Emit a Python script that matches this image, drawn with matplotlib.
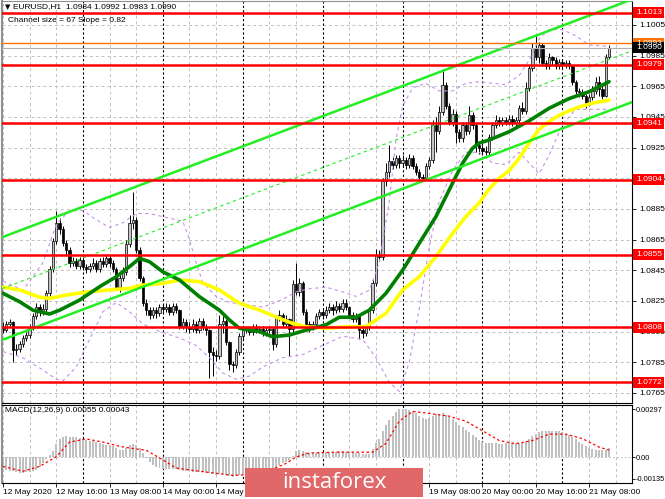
import numpy as np
import matplotlib
matplotlib.use("Agg")
import matplotlib.pyplot as plt
from matplotlib.patches import Rectangle

plt.rcParams['font.family'] = ['Liberation Sans', 'DejaVu Sans']

W, H = 665, 499
BASE = 1.0700   # candle, MA and band values are given in pips above this level
PIP = 0.0001

# EURUSD H1 candles, bar 0 = 12 May 00:00, last bar = 21 May 14:00 (pips above BASE)
first_open = 108
close_p = [106, 110, 111, 93, 94, 97, 101, 103, 108, 115, 121, 118, 120, 130, 146, 164, 176, 172, 163, 158, 150, 151, 148, 152,
           147, 146, 148, 150, 146, 151, 149, 153, 150, 146, 134, 140, 144, 162, 176, 178, 158, 140, 124, 119, 116, 119, 117, 121,
           120, 121, 118, 122, 119, 109, 111, 108, 107, 110, 106, 112, 108, 106, 92, 90, 89, 110, 112, 98, 84, 83, 92, 102,
           106, 107, 105, 108, 106, 107, 104, 106, 107, 97, 114, 116, 110, 113, 107, 136, 131, 137, 118, 110, 108, 110, 115, 118,
           116, 119, 121, 119, 122, 120, 124, 121, 116, 113, 115, 106, 104, 108, 119, 137, 155, 154, 203, 209, 216, 214, 218, 215,
           217, 214, 218, 213, 209, 206, 205, 213, 217, 240, 236, 248, 266, 252, 242, 247, 235, 231, 240, 236, 246, 240, 227, 225,
           223, 222, 232, 240, 243, 241, 243, 242, 244, 241, 243, 251, 249, 264, 277, 290, 284, 292, 280, 278, 284, 282, 278, 281,
           279, 280, 278, 268, 262, 261, 259, 253, 258, 262, 268, 263, 259, 284, 290]
high_p = [111, 112, 113, 112, 97, 99, 103, 105, 110, 117, 124, 123, 123, 132, 148, 166, 184, 179, 174, 165, 160, 154, 153, 154,
          154, 149, 150, 153, 152, 153, 154, 155, 155, 152, 147, 142, 147, 165, 181, 196, 180, 160, 141, 126, 121, 121, 121, 123,
          123, 124, 123, 124, 124, 120, 114, 113, 111, 113, 112, 114, 114, 110, 107, 95, 93, 116, 115, 113, 99, 86, 94, 104,
          108, 109, 109, 110, 110, 109, 109, 108, 109, 108, 116, 119, 117, 116, 114, 139, 150, 140, 138, 120, 112, 112, 117, 120,
          120, 122, 124, 123, 125, 124, 126, 126, 122, 118, 117, 116, 108, 110, 121, 139, 159, 158, 205, 215, 227, 219, 220, 220,
          220, 219, 221, 220, 215, 211, 208, 215, 219, 243, 245, 252, 276, 268, 254, 250, 249, 237, 242, 242, 252, 248, 241, 229,
          227, 226, 234, 242, 246, 245, 245, 245, 246, 246, 245, 253, 255, 268, 279, 293, 298, 294, 293, 282, 287, 285, 284, 283,
          283, 282, 282, 279, 269, 264, 263, 260, 260, 265, 271, 272, 266, 286, 292]
low_p = [104, 105, 108, 85, 90, 92, 95, 99, 101, 106, 113, 115, 116, 118, 128, 144, 162, 169, 161, 155, 147, 148, 146, 146,
         145, 143, 144, 146, 144, 144, 147, 147, 147, 144, 132, 131, 138, 142, 160, 172, 156, 138, 122, 116, 113, 114, 114, 115,
         117, 118, 116, 116, 117, 107, 107, 105, 104, 105, 104, 104, 106, 103, 75, 76, 86, 87, 104, 96, 80, 79, 81, 90,
         100, 104, 103, 103, 104, 104, 102, 102, 104, 93, 95, 112, 108, 108, 89, 105, 129, 128, 116, 106, 105, 106, 108, 113,
         113, 114, 117, 116, 117, 118, 118, 119, 114, 111, 111, 100, 101, 102, 106, 117, 135, 151, 152, 200, 206, 211, 212, 212,
         213, 211, 212, 211, 207, 204, 203, 204, 211, 215, 222, 234, 246, 250, 240, 239, 228, 229, 229, 233, 234, 237, 222, 221,
         220, 220, 220, 230, 238, 239, 239, 240, 240, 239, 239, 239, 247, 247, 262, 275, 282, 280, 278, 276, 276, 279, 276, 276,
         277, 277, 276, 266, 260, 258, 257, 251, 252, 256, 260, 259, 257, 258, 283]

# moving averages (bar index, pips)
green_idx = [0, 5, 9, 14, 17, 23, 29, 34, 38, 41, 44, 48, 53, 59, 65, 68, 71, 77, 81, 86,
             91, 97, 101, 106, 110, 115, 120, 125, 130, 135, 138, 141, 143, 146, 152, 158, 164, 170, 176, 182]
green_val = [130, 124.5, 119, 116.5, 119, 125.6, 134.3, 140.8, 147.4, 152.8, 150.6, 144, 138.7, 127.8, 119, 112.6, 107.2, 105, 101.7, 102.8,
             106, 109.5, 114.4, 114.4, 119, 130, 145, 162.6, 180, 201.8, 214.8, 224.6, 228, 230, 235.4, 242.5, 250.7, 257, 261.5, 268]
yellow_idx = [0, 5, 11, 14, 19, 26, 32, 38, 42, 48, 53, 59, 65, 71, 77, 83, 87, 91, 97, 103,
              109, 115, 120, 125, 130, 135, 139, 143, 146, 149, 152, 155, 158, 161, 164, 167, 170, 173, 177, 182]
yellow_val = [134, 132.2, 127.4, 126.7, 128.9, 131.1, 132.2, 133.3, 135.4, 136.5, 138.7, 137.6, 132.2, 123.5, 119.1, 113.7, 110.4, 108.2, 107.2, 108.2,
              108.2, 117, 132.2, 140.8, 153.9, 169, 180, 189, 198, 205, 210, 218, 228, 237, 242, 246, 249, 251.5, 254, 256]

# bollinger envelope (bar index, pips)
bb_up_idx = [0, 6, 12, 16, 20, 24, 28, 32, 36, 40, 44, 48, 54, 56, 58, 60, 64, 68, 72, 78, 84, 88, 92, 97,
             102, 106, 110, 113, 116, 118, 120, 123, 127, 131, 135, 139, 143, 147, 151, 155, 158, 161, 164, 168, 172, 176, 182]
bb_up_val = [138, 132, 150, 175, 184, 184, 178, 173, 176, 182, 182, 180, 177, 165, 150, 137, 128, 124, 123, 121, 126, 131, 133, 134,
             131, 128, 132, 150, 190, 230, 252, 264, 267, 262, 262, 267, 268, 267, 266, 272, 282, 296, 302, 302, 298, 292, 291]
bb_lo_idx = [0, 6, 12, 16, 18, 22, 26, 30, 34, 38, 42, 46, 50, 54, 58, 62, 66, 70, 74, 78, 84, 90, 96,
             102, 108, 112, 116, 119, 122, 125, 128, 131, 135, 139, 143, 147, 151, 155, 158, 161, 164, 168, 172, 176, 182]
bb_lo_val = [92, 88, 80, 74, 73, 82, 100, 118, 124, 118, 110, 106, 103, 100, 96, 88, 78, 74, 76, 82, 88, 90, 96,
             102, 100, 88, 72, 66, 85, 120, 160, 190, 210, 222, 222, 215, 214, 222, 215, 208, 220, 240, 250, 250, 250]

# MACD(12,26,9) histogram and signal, in units of 0.0001
macd_hist = [-7, -8, -8.5, -9, -9.5, -9.7, -9.8, -9.6, -9.3, -9,
             -7.9, -6, -3.5, -1.5, 1.5, 4, 8, 11, 12.8, 13,
             12.8, 12.5, 12.2, 11.8, 11.3, 10.8, 10.3, 9.8, 9.4, 8.9,
             8.4, 7.8, 7.2, 6.6, 5.5, 4.5, 4.2, 5.5, 7.5, 8.2,
             7.5, 5.5, 2.5, -0.5, -3, -5, -6.2, -7, -7.5, -7.6,
             -7.6, -7.4, -7.8, -8.3, -8.5, -8.8, -9, -9.2, -9.3, -9.4,
             -9.5, -9.8, -10.2, -10.6, -11, -10.8, -10.8, -11.5, -12, -12.2,
             -12, -11.5, -11, -10.5, -10, -9.5, -9, -8.6, -8.2, -7.8,
             -7.6, -7.4, -6, -5, -4, -3, -2, 0.5, 3.5, 4.2,
             4.0, 3.4, 2.8, 2.6, 2.8, 3, 3, 3.2, 3.2, 3.4,
             3.4, 3.6, 3.6, 3.4, 3.2, 3, 2.6, 2.2, 1.8, 1.6,
             2, 5, 8.5, 11, 16, 20, 23, 25.5, 28, 29.7,
             29.7, 29.7, 29.5, 28.8, 27.5, 25.5, 24.2, 23.6, 24.5, 25.8,
             26.8, 27, 27.3, 26.5, 25, 23.5, 22, 20, 18.5, 17,
             15.5, 14, 12.5, 10.5, 9.5, 9, 8.8, 8.6, 8.5, 8.4,
             8.4, 8.5, 8.6, 8.5, 8.5, 8.6, 8.8, 10, 11.5, 13,
             14.5, 15.4, 16, 16.4, 16.4, 16.5, 16.4, 16, 15.5, 14.5,
             13.5, 12.5, 11, 9.5, 8, 6.8, 5.5, 4.8, 4.5, 4.4,
             4.4, 4.6, 5.5]
signal_idx = [0, 6, 11, 16, 20, 25, 30, 35, 39, 43, 48, 52, 59, 69, 74, 80, 85, 88, 92, 100, 108, 111,
              115, 119, 123, 127, 134, 139, 144, 149, 154, 159, 164, 169, 174, 179, 182]
signal_val = [-5.9, -8.9, -5.9, 0.2, 9.3, 11.3, 9.3, 6.7, 5.3, 4.2, -1.8, -6.9, -8.9, -11.5, -11, -8.5, -4, 0, 2.5, 3, 3, 3,
              8.5, 22.4, 28.5, 27.5, 25.5, 22.4, 16.4, 10.3, 8.3, 10.3, 14.3, 14.3, 11.5, 6.2, 4.3]

# horizontal levels and channel
levels = [1.1013, 1.0979, 1.0941, 1.0904, 1.0855, 1.0808, 1.0772]
bid, ask = 1.0990, 1.0993
channel_start = 1.08668   # upper line at bar 0
channel_slope = 0.000082  # per bar ("Slope = 0.82")
channel_size = 0.0067     # "Channel size = 67"

price_ticks = [1.0765, 1.0785, 1.0805, 1.0825, 1.0845, 1.0865, 1.0885, 1.0905,
               1.0925, 1.0945, 1.0965, 1.0985, 1.1005]
# time labels left of / right of the watermark (the ones under it are not visible)
time_idx = [0, 16, 32, 48, 64, 128, 144, 160, 176]
time_labels = ['12 May 2020', '12 May 16:00', '13 May 08:00', '14 May 00:00', '14 May 16:00',
               '19 May 08:00', '20 May 00:00', '20 May 16:00', '21 May 08:00']
day_idx = [24, 48, 72, 96, 120, 144, 168]

XMIN, XMAX = -0.3, 188.9
YMIN, YMAX = 1.075847, 1.102065
GRID = '#c0c0c0'


def pct(x, y):
    # pixel position -> figure fraction
    return x / W, 1 - y / H


def to_price(p):
    return BASE + np.asarray(p, dtype=float) * PIP


def price_to_px(v):
    return 1 + (YMAX - v) / (YMAX - YMIN) * 402


def side_label(fig, v, bg):
    # coloured price box on the right scale, like the terminal draws it
    y = price_to_px(v)
    fig.patches.append(Rectangle(pct(633, y + 5.5), 31 / W, 11 / H, transform=fig.transFigure,
                                 facecolor=bg, edgecolor='none', zorder=12))
    fig.text(*pct(636, y), f'{v:.4f}', fontsize=6, color='white', va='center', zorder=13)


fig = plt.figure(figsize=(W / 100, H / 100), dpi=100)
ax = fig.add_axes([2 / W, 1 - 403 / H, 630 / W, 402 / H])
mx = fig.add_axes([2 / W, 1 - 483 / H, 630 / W, 78 / H])

for a in (ax, mx):
    a.set_xlim(XMIN, XMAX)
    for i in range(0, 189, 8):
        if i not in day_idx:
            a.axvline(i, color=GRID, lw=0.7, ls=(0, (3, 3)), zorder=0)
    for i in day_idx:
        a.axvline(i, color='black', lw=0.8, ls=(0, (2, 2)), zorder=0.5)
    a.spines['left'].set_color('#909090')
    a.spines['left'].set_linewidth(1.5)

# ---- main price panel
ax.set_ylim(YMIN, YMAX)
for v in price_ticks:
    ax.axhline(v, color=GRID, lw=0.7, ls=(0, (3, 3)), zorder=0)

idx = np.arange(len(close_p))
c = to_price(close_p)
o = to_price([first_open] + close_p[:-1])  # forex bars open at the previous close
h = to_price(high_p)
l = to_price(low_p)
up = c >= o
ax.vlines(idx, l, h, color='black', lw=0.7, zorder=2)
ax.bar(idx, np.maximum(np.abs(c - o), 0.00002), bottom=np.minimum(o, c), width=0.7,
       color=np.where(up, '#c4c4c4', 'black'), edgecolor='black', lw=0.5, zorder=2.1)

ax.plot(bb_up_idx, to_price(bb_up_val), color='#c890e8', lw=0.8, ls=(0, (3, 3)), zorder=3)
ax.plot(bb_lo_idx, to_price(bb_lo_val), color='#c890e8', lw=0.8, ls=(0, (3, 3)), zorder=3)
ax.plot(yellow_idx, to_price(yellow_val), color='#ffff00', lw=2.6, zorder=4, solid_capstyle='round')
ax.plot(green_idx, to_price(green_val), color='#008000', lw=2.6, zorder=4.1, solid_capstyle='round')

xs = np.array([XMIN, XMAX])
upper = channel_start + channel_slope * xs
ax.plot(xs, upper, color='#22ee22', lw=1.8, zorder=5)
ax.plot(xs, upper - channel_size, color='#22ee22', lw=1.8, zorder=5)
ax.plot(xs, upper - channel_size / 2, color='#22ee22', lw=0.8, ls=(0, (3, 3)), zorder=5)

for v in levels:
    ax.axhline(v, color='#ff0000', lw=1.8, zorder=6)
ax.axhline(ask, color='#ff7000', lw=1.0, zorder=6)
ax.axhline(bid, color='#b0b0b0', lw=0.8, zorder=6)

ax.set_xticks([])
ax.yaxis.tick_right()
ax.set_yticks(price_ticks)
ax.set_yticklabels([f'{v:.4f}' for v in price_ticks])
ax.tick_params(axis='y', length=3, width=0.6, labelsize=6, pad=2)
ax.spines['top'].set_color('#909090')
for v in levels:
    side_label(fig, v, '#ff0000')
side_label(fig, ask, '#ff7000')
side_label(fig, bid, 'black')

# ---- MACD panel
mx.set_ylim(-16.25, 32.5)
mx.axhline(0, color=GRID, lw=0.7, ls=(0, (2, 2)), zorder=0)
mx.bar(np.arange(len(macd_hist)), macd_hist, width=0.6, color='#c0c0c0', zorder=2)
mx.plot(signal_idx, signal_val, color='#ff0000', lw=0.9, ls=(0, (2, 2)), zorder=3)
mx.yaxis.tick_right()
mx.set_yticks([29.7, 0, -13.5])
mx.set_yticklabels(['0.00297', '0.00', '-0.00135'])
mx.tick_params(axis='y', length=2, width=0.6, labelsize=5.3, pad=1)
mx.set_xticks(time_idx)
mx.set_xticklabels(time_labels)
mx.tick_params(axis='x', length=3, width=0.6, labelsize=6, pad=1)
for t in mx.get_xticklabels():
    t.set_ha('left')

# ---- texts
fig.text(*pct(5, 7), '\u25bc', fontsize=5, va='center', family=['DejaVu Sans'])
fig.text(*pct(13, 7), 'EURUSD,H1  1.0984 1.0992 1.0983 1.0990', fontsize=6, va='center')
fig.text(*pct(8, 20), 'Channel size = 67 Slope = 0.82', fontsize=6, va='center')
fig.text(*pct(5, 411), 'MACD(12,26,9) 0.00055 0.00043', fontsize=6, va='center')

# ---- watermark banner
fig.patches.append(Rectangle(pct(245, 497), 178 / W, 29 / H, transform=fig.transFigure,
                             facecolor='#e06868', edgecolor='none', zorder=10))
fig.text(*pct(334, 482), 'instaforex', fontsize=16, color='white', ha='center', va='center',
         family=['Open Sans', 'DejaVu Sans'], zorder=11)

fig.savefig('out.png', dpi=100)
plt.close(fig)
